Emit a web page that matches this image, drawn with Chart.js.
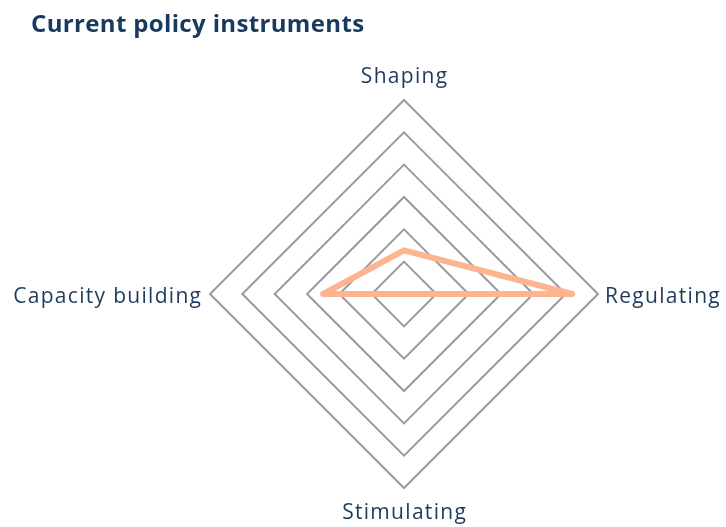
<!DOCTYPE html>
<html>
<head>
<meta charset="utf-8">
<script src="https://cdn.jsdelivr.net/npm/chart.js@4.4.1/dist/chart.umd.min.js"></script>
<style>
  html, body { margin: 0; padding: 0; background: #ffffff; }
  #wrap { position: relative; width: 726px; height: 527px; overflow: hidden; }
  #title { position: absolute; left: 31px; top: 11px; margin: 0; font-family: "Open Sans", sans-serif;
           font-weight: 700; font-size: 24px; line-height: 24px; letter-spacing: 0.35px;
           color: #173a5e; white-space: nowrap; }
  canvas { position: absolute; left: 0; top: 0; }
</style>
</head>
<body>
<div id="wrap">
  <canvas id="c" width="726" height="527"></canvas>
  <div id="title">Current policy instruments</div>
</div>
<script>
// ---- data ----
const categories = ['Shaping', 'Regulating', 'Stimulating', 'Capacity building'];
const currentValues = [1.35, 5.2, 0, 2.5];
const scaleMin = 0;
const scaleMax = 6;
const scaleStep = 1;

// ---- style ----
const labelColor = '#1D3A5E';
const labelFontCss = 'normal 21px "Open Sans", sans-serif';
const labelSpacing = 1.3;
// distance beyond the outer ring, vertical nudge, alignment for each category label
const labelPlacement = [
  { dist: 17, dy: 0, align: 'center' },
  { dist: 7,  dy: 9, align: 'left' },
  { dist: 31, dy: 0, align: 'center' },
  { dist: 9,  dy: 9, align: 'right' }
];

// draws the category labels at the radial scale's own point positions
const pointLabelPlugin = {
  id: 'pointLabelPlugin',
  afterDraw(chart) {
    const s = chart.scales.r;
    const ctx = chart.ctx;
    ctx.save();
    ctx.font = labelFontCss;
    ctx.fillStyle = labelColor;
    ctx.textBaseline = 'alphabetic';
    ctx.textAlign = 'left';
    const hasLS = 'letterSpacing' in ctx;
    if (hasLS) ctx.letterSpacing = labelSpacing + 'px';
    s.getLabels().forEach((lab, i) => {
      const pl = labelPlacement[i];
      const p = s.getPointPosition(i, s.drawingArea + pl.dist);
      let w = ctx.measureText(lab).width;
      if (hasLS) w -= labelSpacing;
      let x = p.x;
      if (pl.align === 'center') x = p.x - w / 2;
      else if (pl.align === 'right') x = p.x - w;
      ctx.fillText(lab, x, p.y + pl.dy);
    });
    ctx.restore();
  }
};

new Chart(document.getElementById('c'), {
  type: 'radar',
  data: {
    labels: categories,
    datasets: [{
      label: 'Current policy instruments',
      data: currentValues,
      borderColor: '#FDB591',
      backgroundColor: 'rgba(0,0,0,0)',
      borderWidth: 6,
      borderJoinStyle: 'round',
      borderCapStyle: 'round',
      pointRadius: 0,
      pointHoverRadius: 0,
      fill: false,
      tension: 0
    }]
  },
  options: {
    responsive: false,
    animation: false,
    devicePixelRatio: 1,
    layout: { padding: { left: 210, right: 128, top: 100, bottom: 39 } },
    plugins: {
      legend: { display: false },
      title: { display: false },
      tooltip: { enabled: false }
    },
    scales: {
      r: {
        min: scaleMin,
        max: scaleMax,
        beginAtZero: true,
        ticks: { display: false, stepSize: scaleStep },
        angleLines: { display: false },
        grid: { color: '#979AA1', lineWidth: 2, circular: false },
        pointLabels: { display: false }
      }
    }
  },
  plugins: [pointLabelPlugin]
});
</script>
</body>
</html>
